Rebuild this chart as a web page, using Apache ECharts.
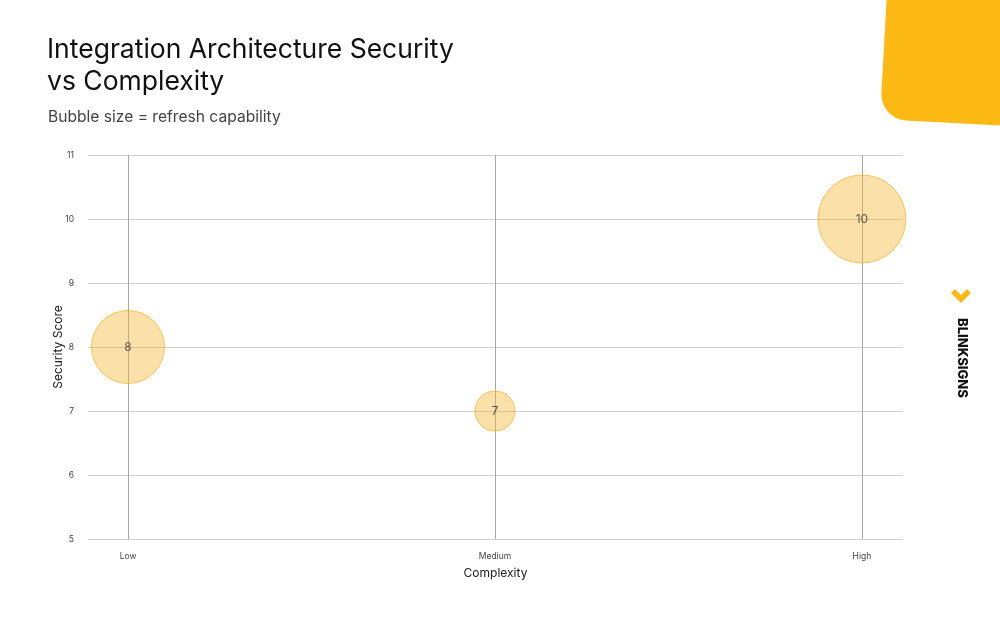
<!DOCTYPE html>
<html>
<head>
<meta charset="utf-8">
<script src="https://cdn.jsdelivr.net/npm/echarts@6/dist/echarts.min.js"></script>
<style>
html,body{margin:0;padding:0;background:#fff;}
#c{width:1000px;height:623px;}
</style>
</head>
<body>
<div id="c"></div>
<script>
var categories = ['Low', 'Medium', 'High'];
var securityScore = [8, 7, 10];
var refreshCapability = [7.3, 4, 8.8];
var yTicks = [5, 6, 7, 8, 9, 10, 11];

var FONT = 'Inter, "Noto Sans", sans-serif';
var chart = echarts.init(document.getElementById('c'), null, {renderer: 'canvas'});

var data = categories.map(function (c, i) {
  return [i, securityScore[i], refreshCapability[i]];
});

chart.setOption({
  backgroundColor: '#ffffff',
  animation: false,
  textStyle: {fontFamily: FONT},
  graphic: [
    {
      type: 'rect', x: 880, y: 119, rotation: -0.055, z: 0,
      shape: {x: 0, y: -300, width: 300, height: 300, r: 26},
      style: {fill: '#FDB913'}
    },
    {
      type: 'text', left: 47, top: 34,
      style: {text: 'Integration Architecture Security\nvs Complexity', font: '400 26.5px ' + FONT, fill: '#111', lineHeight: 32}
    },
    {
      type: 'text', left: 48, top: 109,
      style: {text: 'Bubble size = refresh capability', font: '400 15.6px ' + FONT, fill: '#444'}
    },
    {
      type: 'polyline',
      shape: {points: [[953, 291], [961, 299], [969, 291]]},
      style: {stroke: '#FDB913', lineWidth: 5.5, fill: null, lineJoin: 'miter'}
    },
    {
      type: 'text', x: 962, y: 318, rotation: -Math.PI / 2,
      style: {text: 'BLINKSIGNS', font: '800 13px ' + FONT, fill: '#111', textAlign: 'left', textVerticalAlign: 'middle'}
    }
  ],
  grid: {left: 88, right: 97, top: 155, bottom: 84, containLabel: false},
  xAxis: {
    type: 'value',
    min: -0.109,
    max: 2.112,
    name: 'Complexity',
    nameLocation: 'middle',
    nameGap: 28,
    nameMoveOverlap: false,
    nameTextStyle: {fontSize: 12, color: '#222', fontFamily: FONT},
    axisLine: {show: false},
    axisTick: {show: false, customValues: [0, 1, 2]},
    axisLabel: {
      customValues: [0, 1, 2],
      fontSize: 8.5, color: '#444', margin: 13, fontFamily: FONT,
      formatter: function (v) { return categories[Math.round(v)]; }
    },
    splitLine: {show: true, lineStyle: {color: '#a8a8a8', width: 1}}
  },
  yAxis: {
    type: 'value',
    min: yTicks[0],
    max: yTicks[yTicks.length - 1],
    interval: 1,
    name: 'Security Score',
    nameLocation: 'middle',
    nameGap: 24,
    nameMoveOverlap: false,
    nameTextStyle: {fontSize: 12, color: '#222', fontFamily: FONT},
    axisLine: {show: false},
    axisTick: {show: false},
    axisLabel: {fontSize: 8.5, color: '#444', margin: 14, fontFamily: FONT},
    splitLine: {show: true, lineStyle: {color: '#cfcfcf', width: 1}}
  },
  series: [{
    type: 'scatter',
    data: data,
    symbolSize: function (d) { return d[2] * 10; },
    itemStyle: {color: 'rgba(245,180,40,0.5)', borderColor: 'rgba(238,175,25,0.85)', borderWidth: 1},
    label: {
      show: true, position: 'inside', fontSize: 12, color: '#333', fontFamily: FONT,
      formatter: function (p) { return p.value[1]; }
    },
    z: 3
  }]
});
</script>
</body>
</html>
